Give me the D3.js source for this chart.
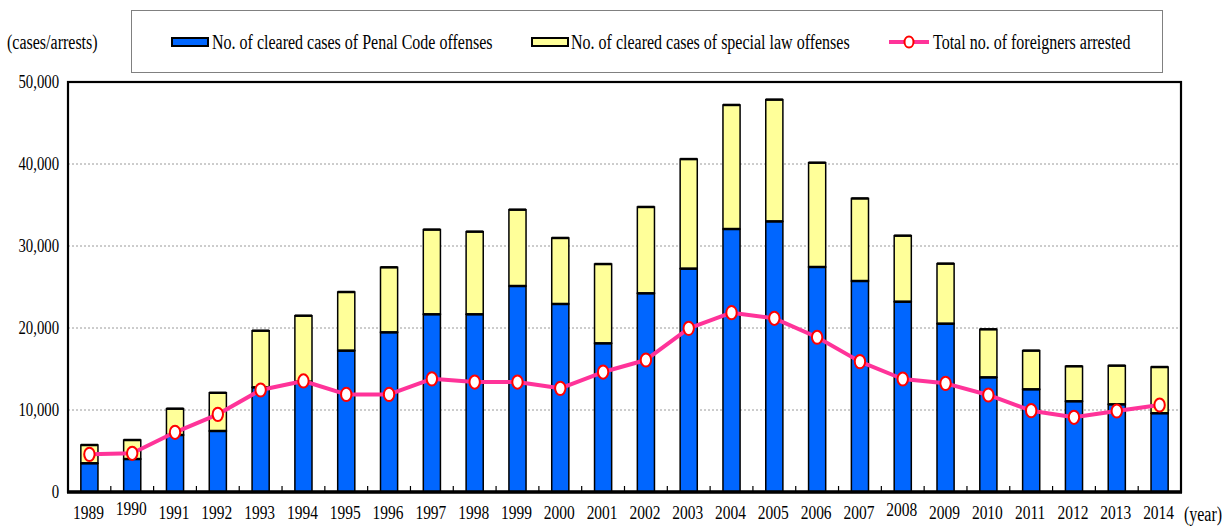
<!DOCTYPE html>
<html>
<head>
<meta charset="utf-8">
<script src="https://cdn.jsdelivr.net/npm/d3@7"></script>
<style>
  html, body { margin: 0; padding: 0; background: #fff; }
  svg { display: block; }
</style>
</head>
<body>
<div id="chart"></div>
<script>
// ---- data ----
const years = ["1989","1990","1991","1992","1993","1994","1995","1996","1997","1998","1999","2000","2001",
  "2002","2003","2004","2005","2006","2007","2008","2009","2010","2011","2012","2013","2014"];
const penalCode = [3500, 4020, 6950, 7440, 12760, 13450, 17240, 19470, 21670, 21670, 25120, 22930, 18130,
  24230, 27240, 32070, 33000, 27440, 25730, 23210, 20530, 13980, 12520, 11060, 10690, 9600];
const specialLaw = [2230, 2320, 3210, 4660, 6910, 8050, 7150, 7930, 10330, 10080, 9310, 8050, 9670,
  10530, 13360, 15130, 14850, 12720, 10070, 8050, 7320, 5860, 4720, 4270, 4720, 5640];
const arrested = [4590, 4720, 7280, 9470, 12440, 13540, 11900, 11900, 13800, 13410, 13410, 12640, 14630,
  16100, 19960, 21870, 21180, 18870, 15900, 13780, 13250, 11830, 9920, 9110, 9880, 10610];
const yTicks = [0, 10000, 20000, 30000, 40000, 50000];
const seriesNames = ["No. of cleared cases of Penal Code offenses",
  "No. of cleared cases of special law offenses",
  "Total no. of foreigners arrested"];

// ---- layout ----
const W = 1231, H = 526;
const plot = { left: 68, right: 1181, top: 82, bottom: 492 };
const BLUE = "#0066ff", YELLOW = "#ffff99", PINK = "#ff3399";
const FONT = "'Liberation Serif', 'DejaVu Serif', serif";
// a few year labels sit a little higher in the original
const labelLift = { "1990": 4, "2008": 3 };

const svg = d3.select("#chart").append("svg").attr("width", W).attr("height", H);

// condensed serif text helper
function label(g, x, y, str, size, sx, anchor) {
  return g.append("text")
    .attr("transform", `translate(${x},${y}) scale(${sx},1)`)
    .attr("font-family", FONT)
    .attr("font-size", size + "px")
    .attr("fill", "#000")
    .attr("text-anchor", anchor || "start")
    .text(str);
}

// ---- scales ----
const x = d3.scaleBand().domain(years).range([plot.left, plot.right]).paddingInner(0.6).paddingOuter(0.3);
const slot = d3.scaleBand().domain(years).range([plot.left, plot.right]).padding(0);
const y = d3.scaleLinear().domain([0, 50000]).range([plot.bottom, plot.top]);

// ---- grid ----
svg.append("g").selectAll("line")
  .data(yTicks.filter(d => d > 0 && d < 50000))
  .join("line")
  .attr("x1", plot.left).attr("x2", plot.right)
  .attr("y1", d => y(d)).attr("y2", d => y(d))
  .attr("stroke", "#9a9a9a").attr("stroke-width", 1).attr("stroke-dasharray", "2,2");

// ---- y axis labels ----
const yAxis = svg.append("g");
yTicks.forEach(d => label(yAxis, 59, y(d) + 6, d3.format(",")(d), 18, 0.82, "end"));
label(svg, 7, 49, "(cases/arrests)", 20, 0.8, "start");

// ---- bars ----
const rows = years.map((yr, i) => ({ year: yr, penal: penalCode[i], special: specialLaw[i] }));
const stacked = d3.stack().keys(["penal", "special"])(rows);
const fills = { penal: BLUE, special: YELLOW };

svg.append("g").selectAll("g")
  .data(stacked)
  .join("g")
  .attr("fill", s => fills[s.key])
  .selectAll("rect")
  .data(s => s)
  .join("rect")
  .attr("x", d => x(d.data.year))
  .attr("width", x.bandwidth())
  .attr("y", d => y(d[1]))
  .attr("height", d => y(d[0]) - y(d[1]))
  .attr("stroke", "#000")
  .attr("stroke-width", 1.5);

// thicker top edges of each segment
svg.append("g").selectAll("g")
  .data(stacked)
  .join("g")
  .selectAll("line")
  .data(s => s)
  .join("line")
  .attr("x1", d => x(d.data.year))
  .attr("x2", d => x(d.data.year) + x.bandwidth())
  .attr("y1", d => y(d[1]))
  .attr("y2", d => y(d[1]))
  .attr("stroke", "#000")
  .attr("stroke-width", 2.5);

// ---- frame + ticks ----
svg.append("rect")
  .attr("x", plot.left).attr("y", plot.top)
  .attr("width", plot.right - plot.left).attr("height", plot.bottom - plot.top)
  .attr("fill", "none").attr("stroke", "#000").attr("stroke-width", 2.2);

svg.append("line")
  .attr("x1", plot.left - 1).attr("x2", plot.right + 1)
  .attr("y1", plot.bottom).attr("y2", plot.bottom)
  .attr("stroke", "#000").attr("stroke-width", 3.5);

svg.append("g").selectAll("line")
  .data(years.slice(1))
  .join("line")
  .attr("x1", d => slot(d)).attr("x2", d => slot(d))
  .attr("y1", plot.bottom).attr("y2", plot.bottom - 6)
  .attr("stroke", "#000").attr("stroke-width", 1.2);

// ---- x labels ----
const xAxis = svg.append("g");
years.forEach(yr => label(xAxis, x(yr) + x.bandwidth() / 2 - 1, 519 - (labelLift[yr] || 0), yr, 18, 0.86, "middle"));
label(svg, 1203, 521, "(year)", 20, 0.8, "middle");

// ---- line ----
const pts = years.map((yr, i) => ({ year: yr, v: arrested[i] }));
const line = d3.line()
  .x(d => x(d.year) + x.bandwidth() / 2)
  .y(d => y(d.v));

svg.append("path")
  .datum(pts)
  .attr("d", line)
  .attr("fill", "none")
  .attr("stroke", PINK)
  .attr("stroke-width", 4)
  .attr("stroke-linejoin", "round");

svg.append("g").selectAll("ellipse")
  .data(pts)
  .join("ellipse")
  .attr("cx", d => x(d.year) + x.bandwidth() / 2)
  .attr("cy", d => y(d.v))
  .attr("rx", 5.2).attr("ry", 6.6)
  .attr("fill", "#fff")
  .attr("stroke", "#ff0000")
  .attr("stroke-width", 2);

// ---- legend ----
const legend = svg.append("g");
legend.append("rect")
  .attr("x", 131.5).attr("y", 10.5).attr("width", 1031).attr("height", 62)
  .attr("fill", "#fff").attr("stroke", "#808080").attr("stroke-width", 1);

legend.append("rect").attr("x", 172).attr("y", 38).attr("width", 36).attr("height", 8)
  .attr("fill", BLUE).attr("stroke", "#000").attr("stroke-width", 2);
label(legend, 212, 49, seriesNames[0], 20, 0.8, "start");

legend.append("rect").attr("x", 532).attr("y", 38).attr("width", 36).attr("height", 8)
  .attr("fill", YELLOW).attr("stroke", "#000").attr("stroke-width", 2);
label(legend, 571, 49, seriesNames[1], 20, 0.8, "start");

legend.append("line").attr("x1", 889).attr("x2", 929).attr("y1", 42).attr("y2", 42)
  .attr("stroke", PINK).attr("stroke-width", 4);
legend.append("ellipse").attr("cx", 909).attr("cy", 42).attr("rx", 4.5).attr("ry", 5.5)
  .attr("fill", "#fff").attr("stroke", "#ff0000").attr("stroke-width", 2);
label(legend, 933, 49, seriesNames[2], 20, 0.8, "start");
</script>
</body>
</html>
